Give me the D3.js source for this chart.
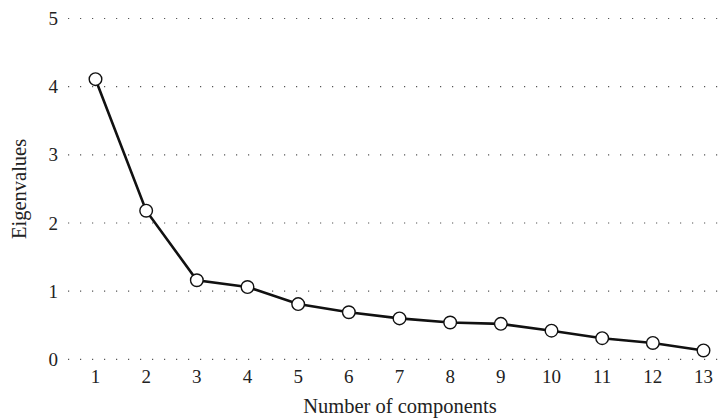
<!DOCTYPE html>
<html>
<head>
<meta charset="utf-8">
<script src="https://cdn.jsdelivr.net/npm/d3@7"></script>
<style>
  body { margin: 0; background: #fff; }
  text { font-family: "Liberation Serif", "DejaVu Serif", serif; fill: #222; }
</style>
</head>
<body>
<div id="chart"></div>
<script>
// scree plot: eigenvalue per component
var components = [1, 2, 3, 4, 5, 6, 7, 8, 9, 10, 11, 12, 13];
var eigenvalues = [4.11, 2.18, 1.16, 1.06, 0.81, 0.69, 0.60, 0.54, 0.52, 0.42, 0.31, 0.24, 0.13];
var yTicks = [0, 1, 2, 3, 4, 5];

var W = 722, H = 419;
var margin = {top: 18.5, right: 0, bottom: 59.7, left: 68};

var svg = d3.select("#chart").append("svg")
    .attr("width", W)
    .attr("height", H);

var x = d3.scaleLinear()
    .domain([1, 13])
    .range([95.5, 703.5]);

var y = d3.scaleLinear()
    .domain([0, 5])
    .range([H - margin.bottom, margin.top]);

// dotted grid lines
svg.append("g").selectAll("line")
    .data(yTicks)
    .enter().append("line")
    .attr("x1", margin.left)
    .attr("x2", W)
    .attr("y1", function(d) { return y(d); })
    .attr("y2", function(d) { return y(d); })
    .attr("stroke", "#555")
    .attr("stroke-width", 1.2)
    .attr("stroke-dasharray", "1.2,10.8");

// y tick labels
svg.append("g").selectAll("text")
    .data(yTicks)
    .enter().append("text")
    .attr("x", 58)
    .attr("y", function(d) { return y(d); })
    .attr("dy", "0.35em")
    .attr("text-anchor", "end")
    .style("font-size", "19px")
    .text(function(d) { return d; });

// x tick labels
svg.append("g").selectAll("text")
    .data(components)
    .enter().append("text")
    .attr("x", function(d) { return x(d); })
    .attr("y", 383)
    .attr("text-anchor", "middle")
    .style("font-size", "19px")
    .text(function(d) { return d; });

// axis titles
svg.append("text")
    .attr("x", 400)
    .attr("y", 413)
    .attr("text-anchor", "middle")
    .style("font-size", "20.5px")
    .text("Number of components");

svg.append("text")
    .attr("transform", "translate(26," + y(2.5) + ") rotate(-90)")
    .attr("text-anchor", "middle")
    .style("font-size", "20.5px")
    .text("Eigenvalues");

var pts = components.map(function(c, i) { return [c, eigenvalues[i]]; });

var line = d3.line()
    .x(function(d) { return x(d[0]); })
    .y(function(d) { return y(d[1]); });

svg.append("path")
    .datum(pts)
    .attr("d", line)
    .attr("fill", "none")
    .attr("stroke", "#111")
    .attr("stroke-width", 2.6);

svg.append("g").selectAll("circle")
    .data(pts)
    .enter().append("circle")
    .attr("cx", function(d) { return x(d[0]); })
    .attr("cy", function(d) { return y(d[1]); })
    .attr("r", 6.3)
    .attr("fill", "#fff")
    .attr("stroke", "#111")
    .attr("stroke-width", 1.4);
</script>
</body>
</html>
